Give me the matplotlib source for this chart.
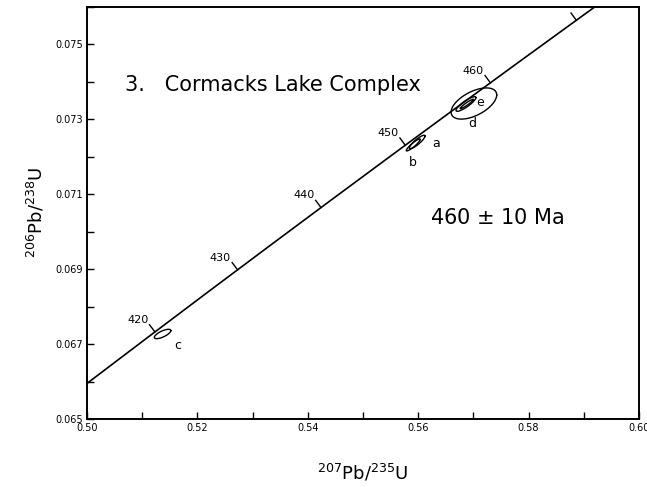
import numpy as np
import matplotlib
matplotlib.use("Agg")
import matplotlib.pyplot as plt

# Decay constants (per year)
LAMBDA_238 = 1.55125e-10
LAMBDA_235 = 9.8485e-10

# Concordia age ticks (Ma) and which get a label
age_ticks = [420, 430, 440, 450, 460, 470]
age_labels = ["420", "430", "440", "450", "460", ""]

# Data ellipses: centre, half-widths in x / y, correlation
ell_names = ["a", "b", "c", "d", "e", ""]
ell_cx = [0.55982, 0.55910, 0.51369, 0.57009, 0.56865, 0.56880]
ell_cy = [0.072387, 0.072307, 0.067267, 0.073413, 0.07340, 0.07340]
ell_sx = [0.00141, 0.00126, 0.00149, 0.00413, 0.00180, 0.00120]
ell_sy = [0.000179, 0.000159, 0.000125, 0.000416, 0.000195, 0.000125]
ell_rho = [0.879, 0.921, 0.715, 0.55, 0.871, 0.95]
# label positions
lab_x = [0.56324, 0.55910, 0.51640, 0.56973, 0.57117]
lab_y = [0.07236, 0.07183, 0.06697, 0.07289, 0.07343]

xlim = (0.50, 0.60)
ylim = (0.065, 0.076)
x_major = [0.50, 0.52, 0.54, 0.56, 0.58, 0.60]
x_major_labels = ["0.50", "0.52", "0.54", "0.56", "0.58", "0.60"]
y_major = [0.065, 0.067, 0.069, 0.071, 0.073, 0.075]
y_major_labels = ["0.065", "0.067", "0.069", "0.071", "0.073", "0.075"]

title_text = "3.   Cormacks Lake Complex"
age_text = "460 $\\pm$ 10 Ma"

plt.rcParams['font.family'] = ['DejaVu Sans']
plt.rcParams['mathtext.fontset'] = 'dejavusans'

fig = plt.figure(figsize=(6.47, 4.87), dpi=100)
ax = fig.add_axes([87/647, (487-419)/487, (639-87)/647, (419-6.5)/487])
ax.set_xlim(*xlim)
ax.set_ylim(*ylim)

def conc(t_ma):
    t = np.asarray(t_ma) * 1e6
    return np.exp(LAMBDA_235 * t) - 1, np.exp(LAMBDA_238 * t) - 1

t = np.linspace(380, 500, 2000)
cx, cy = conc(t)
ax.plot(cx, cy, color="black", lw=1.2, solid_capstyle="butt")

# concordia tick marks perpendicular to curve (display space)
for age, lab in zip(age_ticks, age_labels):
    x0, y0 = conc(age)
    x1, y1 = conc(age + 0.5)
    p0 = ax.transData.transform((x0, y0))
    p1 = ax.transData.transform((x1, y1))
    d = p1 - p0
    d = d / np.hypot(*d)
    n = np.array([-d[1], d[0]])  # up-left normal
    tip = p0 + n * 9
    tip_data = ax.transData.inverted().transform(tip)
    ax.plot([x0, tip_data[0]], [y0, tip_data[1]], color="black", lw=1.0)
    if lab:
        lp = p0 + n * 12 + np.array([-10, 2.5])
        ld = ax.transData.inverted().transform(lp)
        ax.text(ld[0], ld[1], lab, fontsize=8, ha="center", va="center")

# error ellipses
tt = np.linspace(0, 2*np.pi, 200)
for cxx, cyy, sx, sy, r in zip(ell_cx, ell_cy, ell_sx, ell_sy, ell_rho):
    ex = cxx + sx * np.cos(tt)
    ey = cyy + sy * (r * np.cos(tt) + np.sqrt(1 - r**2) * np.sin(tt))
    ax.plot(ex, ey, color="black", lw=1.0)

for name, lx, ly in zip(ell_names, lab_x, lab_y):
    ax.text(lx, ly, name, fontsize=9, ha="center", va="center")

ax.text(0.5068, 0.07391, title_text, fontsize=15, ha="left", va="center")
ax.text(0.5621, 0.07036, age_text, fontsize=15, ha="left", va="center")

ax.set_xticks(x_major)
ax.set_xticklabels(x_major_labels)
ax.set_yticks(y_major)
ax.set_yticklabels(y_major_labels)
ax.set_xticks(np.arange(0.51, 0.60, 0.02), minor=True)
ax.set_yticks(np.arange(0.066, 0.0761, 0.002), minor=True)
ax.tick_params(which="both", direction="in", length=5, width=1.0, labelsize=7,
               pad=3, right=False, top=False)
for s in ax.spines.values():
    s.set_linewidth(1.4)

ax.set_xlabel(r"$^{207}$Pb/$^{235}$U", fontsize=13, labelpad=21)
ax.set_ylabel(r"$^{206}$Pb/$^{238}$U", fontsize=13, labelpad=6)

fig.savefig("out.png", dpi=100)
